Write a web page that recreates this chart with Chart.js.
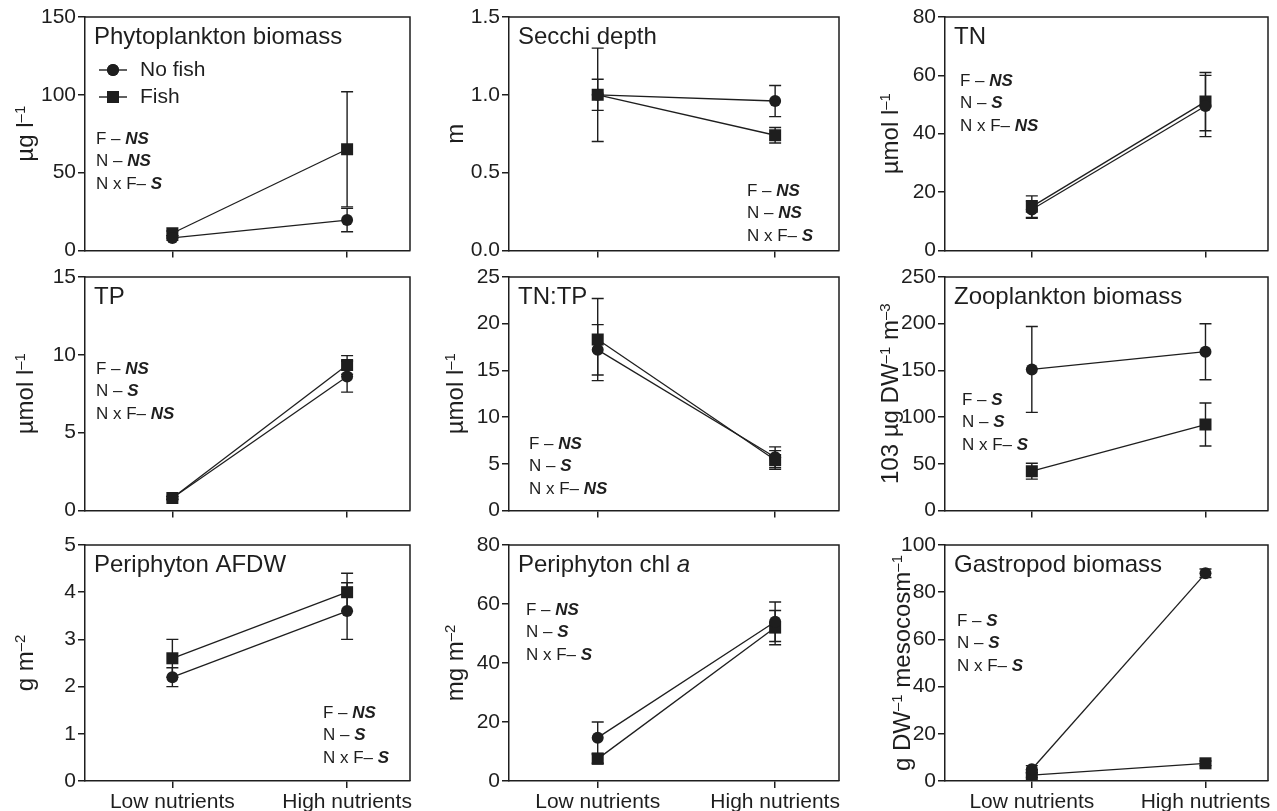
<!DOCTYPE html>
<html>
<head>
<meta charset="utf-8">
<script src="https://cdn.jsdelivr.net/npm/chart.js@4.4.1/dist/chart.umd.min.js"></script>
<style>
  body { margin: 0; background: #fff; width: 1277px; height: 811px; position: relative; overflow: hidden; }
  canvas { position: absolute; }
</style>
</head>
<body>
<script>
// ---------------------------------------------------------------------------
// Data: 9 panels, two treatments, two nutrient levels
// ---------------------------------------------------------------------------
const xLabels = ["Low nutrients", "High nutrients"];
const seriesNames = ["No fish", "Fish"];

// *..* = italic, ^..^ = superscript
const panelTitles = ["Phytoplankton biomass", "Secchi depth", "TN",
                     "TP", "TN:TP", "Zooplankton biomass",
                     "Periphyton AFDW", "Periphyton chl *a*", "Gastropod biomass"];
const yTitles = ["µg l^–1^", "m", "µmol l^–1^",
                 "µmol l^–1^", "µmol l^–1^", "103 µg DW^–1^ m^–3^",
                 "g m^–2^", "mg m^–2^", "g DW^–1^ mesocosm^–1^"];
const yMax  = [150, 1.5, 80, 15, 25, 250, 5, 80, 100];
const yStep = [50, 0.5, 20, 5, 5, 50, 1, 20, 20];

// [low, high]
const noFishMean = [[8, 19.5], [1.0, 0.96], [14, 49.5], [0.8, 8.6], [17.2, 5.7], [151, 170], [2.2, 3.6], [14.7, 54], [5, 88]];
const noFishErr  = [[1.5, 7.5], [0.3, 0.1], [3, 10.5], [0.1, 1.0], [2.7, 1.1], [46, 30], [0.2, 0.6], [5.3, 6.7], [1.5, 1.8]];
const fishMean   = [[11, 65], [1.0, 0.74], [15, 51], [0.8, 9.35], [18.3, 5.4], [42, 92], [2.6, 4.0], [7.5, 52], [2.5, 7.5]];
const fishErr    = [[1.5, 37], [0.1, 0.05], [3.7, 10], [0.1, 0.6], [4.4, 1.0], [8.5, 23], [0.4, 0.4], [1.5, 5.8], [1, 1]];

// significance of Fish, Nutrients, interaction
const statF   = ["NS", "NS", "NS", "NS", "NS", "S", "NS", "NS", "S"];
const statN   = ["NS", "NS", "S", "S", "S", "S", "S", "S", "S"];
const statNxF = ["S", "S", "NS", "NS", "NS", "S", "S", "S", "S"];
const statPrefix = ["F – ", "N – ", "N x F– "];

// ---------------------------------------------------------------------------
// Layout
// ---------------------------------------------------------------------------
const INK = "#1e1e1e";
const FAMILY = '"Liberation Sans", Arial, Helvetica, sans-serif';
const COL_LEFT = [0, 424, 860];
const AREA_RIGHT = [410, 839, 1268];
const ROW_TOP = [0, 260, 528];
const AREA_H = [238, 238, 236];
const Y_AXIS_W = 85;
const TOP_PAD = 17;
const RIGHT_PAD = 9;
const YTITLE_X = [26, 32, 31, 26, 32, 31, 26, 32, 43];
const STAT_POS = [[11, 122], [238, 174], [15, 64], [11, 92], [20, 167], [17, 123], [238, 168], [17, 65], [12, 76]];

// split "*italic*" / "^sup^" markup into runs
function runs(t, size) {
  const out = [];
  const re = /(\*[^*]+\*|\^[^^]+\^)/g;
  t.split(re).filter(Boolean).forEach(p => {
    if (p[0] === "*") out.push({ text: p.slice(1, -1), font: `italic ${size}px ${FAMILY}`, rise: 0 });
    else if (p[0] === "^") out.push({ text: p.slice(1, -1), font: `${Math.round(size * 0.64)}px ${FAMILY}`, rise: size * 0.22 });
    else out.push({ text: p, font: `${size}px ${FAMILY}`, rise: 0 });
  });
  return out;
}

function drawRuns(ctx, segs, x, y) {
  for (const s of segs) {
    ctx.font = s.font;
    ctx.fillText(s.text, x, y - s.rise);
    x += ctx.measureText(s.text).width;
  }
}

function runsWidth(ctx, segs) {
  return segs.reduce((w, s) => { ctx.font = s.font; return w + ctx.measureText(s.text).width; }, 0);
}

const errorBars = {
  id: "errorBars",
  beforeDatasetsDraw(chart) {
    const { ctx, scales: { x, y } } = chart;
    ctx.save();
    ctx.strokeStyle = INK;
    ctx.lineWidth = 1.4;
    chart.data.datasets.forEach(ds => {
      ds.data.forEach((p, i) => {
        const e = ds.errors[i];
        const px = x.getPixelForValue(p.x);
        const top = y.getPixelForValue(p.y + e);
        const bot = y.getPixelForValue(p.y - e);
        ctx.beginPath();
        ctx.moveTo(px, top); ctx.lineTo(px, bot);
        ctx.moveTo(px - 6, top); ctx.lineTo(px + 6, top);
        ctx.moveTo(px - 6, bot); ctx.lineTo(px + 6, bot);
        ctx.stroke();
      });
    });
    ctx.restore();
  }
};

const panelDecor = {
  id: "panelDecor",
  afterDraw(chart, args, opts) {
    const { ctx, chartArea: a } = chart;
    const i = opts.index;
    ctx.save();
    // top + right frame
    ctx.strokeStyle = INK;
    ctx.lineWidth = 1.5;
    ctx.beginPath();
    ctx.moveTo(a.left, a.top); ctx.lineTo(a.right, a.top); ctx.lineTo(a.right, a.bottom);
    ctx.stroke();

    ctx.fillStyle = INK;
    ctx.textBaseline = "middle";
    drawRuns(ctx, runs(panelTitles[i], 24), a.left + 9, a.top + 20);

    // rotated y-axis title
    const yt = runs(yTitles[i], 24);
    ctx.save();
    ctx.translate(YTITLE_X[i], (a.top + a.bottom) / 2);
    ctx.rotate(-Math.PI / 2);
    drawRuns(ctx, yt, -runsWidth(ctx, yt) / 2, 0);
    ctx.restore();

    const stats = [statF[i], statN[i], statNxF[i]];
    const [sx, sy] = STAT_POS[i];
    stats.forEach((s, k) => {
      drawRuns(ctx, [
        { text: statPrefix[k], font: "17px " + FAMILY, rise: 0 },
        { text: s, font: "italic bold 17px " + FAMILY, rise: 0 },
      ], a.left + sx, a.top + sy + k * 22.5);
    });

    if (i === 0) {
      chart.data.datasets.forEach((ds, k) => {
        const ly = a.top + 53 + k * 27;
        ctx.beginPath();
        ctx.lineWidth = 1.4;
        ctx.moveTo(a.left + 14, ly); ctx.lineTo(a.left + 42, ly);
        ctx.stroke();
        Chart.helpers.drawPoint(ctx, { pointStyle: ds.pointStyle, radius: ds.pointRadius, rotation: 0, borderWidth: 0 }, a.left + 28, ly);
        ctx.fill();
        ctx.font = "21px " + FAMILY;
        ctx.fillText(ds.label, a.left + 55, ly);
      });
    }
    ctx.restore();
  }
};

for (let i = 0; i < 9; i++) {
  const row = Math.floor(i / 3), col = i % 3;
  const last = row === 2;
  const xAxisH = last ? 30 : 10;
  const cv = document.createElement("canvas");
  cv.width = AREA_RIGHT[col] - COL_LEFT[col] + RIGHT_PAD;
  cv.height = TOP_PAD + AREA_H[row] + xAxisH;
  cv.style.left = COL_LEFT[col] + "px";
  cv.style.top = ROW_TOP[row] + "px";
  document.body.appendChild(cv);

  const mk = (label, means, errs, style, radius) => ({
    label,
    data: means[i].map((v, k) => ({ x: k, y: v })),
    errors: errs[i],
    borderColor: INK,
    backgroundColor: INK,
    borderWidth: 1.3,
    pointStyle: style,
    pointRadius: radius,
    pointBorderWidth: 0,
    pointBackgroundColor: INK,
  });

  new Chart(cv, {
    type: "line",
    data: {
      datasets: [
        mk(seriesNames[0], noFishMean, noFishErr, "circle", 6),
        mk(seriesNames[1], fishMean, fishErr, "rect", 8.5),
      ]
    },
    options: {
      responsive: false,
      animation: false,
      layout: { padding: { top: TOP_PAD, right: RIGHT_PAD, left: 0, bottom: 0 } },
      plugins: { legend: { display: false }, tooltip: { enabled: false }, panelDecor: { index: i } },
      scales: {
        x: {
          type: "linear", min: -0.5, max: 1.36,
          afterBuildTicks: ax => { ax.ticks = [{ value: 0 }, { value: 1 }]; },
          afterFit: ax => { ax.height = xAxisH; },
          ticks: {
            autoSkip: false, maxRotation: 0, padding: 2, color: INK,
            font: { family: FAMILY, size: 21 },
            callback: v => last ? xLabels[v] : "",
          },
          grid: { drawOnChartArea: false, tickLength: 7, color: INK, lineWidth: 1.5 },
          border: { color: INK, width: 1.5 },
        },
        y: {
          min: 0, max: yMax[i],
          afterFit: ax => { ax.width = Y_AXIS_W; },
          ticks: {
            stepSize: yStep[i], padding: 2, color: INK,
            font: { family: FAMILY, size: 21 },
            callback: v => yStep[i] < 1 ? v.toFixed(1) : String(v),
          },
          grid: { drawOnChartArea: false, tickLength: 7, color: INK, lineWidth: 1.5 },
          border: { color: INK, width: 1.5 },
        },
      },
    },
    plugins: [errorBars, panelDecor],
  });
}
</script>
</body>
</html>
